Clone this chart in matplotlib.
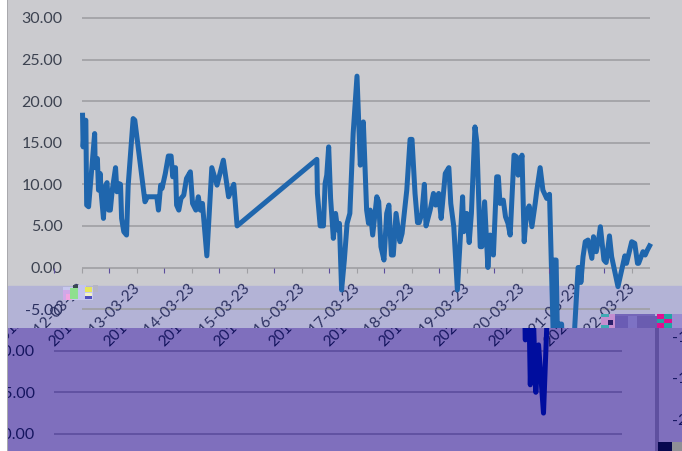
import matplotlib
matplotlib.use("Agg")
import matplotlib.pyplot as plt
from matplotlib.patches import Rectangle
from matplotlib.transforms import ScaledTranslation

plt.rcParams['font.family'] = ['Lato', 'DejaVu Sans']

###########################################
# Data
###########################################
# years after 2012-03-23
years = [0.01, 0.02, 0.05, 0.07, 0.085, 0.12, 0.16, 0.23, 0.24, 0.28, 0.30, 0.33, 0.35, 0.39, 0.42,
         0.455, 0.485, 0.515, 0.55, 0.61, 0.635, 0.665, 0.70, 0.72, 0.76, 0.81, 0.84, 0.93, 0.96,
         1.145, 1.19, 1.36, 1.39, 1.43, 1.455, 1.515, 1.57, 1.62, 1.65, 1.70, 1.72, 1.76, 1.80,
         1.85, 1.90, 1.97, 2.01, 2.07, 2.115, 2.15, 2.19, 2.27, 2.36, 2.455, 2.57, 2.665, 2.76, 2.82,
         4.27, 4.28, 4.33, 4.39, 4.42, 4.45, 4.485, 4.52, 4.57, 4.61, 4.65, 4.68, 4.72, 4.77, 4.82,
         4.87, 4.93, 5.0, 5.06, 5.115, 5.175, 5.21, 5.24, 5.285, 5.36, 5.395, 5.435, 5.49, 5.54,
         5.58, 5.625, 5.66, 5.71, 5.78, 5.82, 5.905, 5.965, 6.0, 6.055, 6.10, 6.13, 6.18, 6.225,
         6.255, 6.33, 6.39, 6.43, 6.485, 6.53, 6.605, 6.67, 6.705, 6.76, 6.825, 6.92, 6.94, 6.995,
         7.04, 7.08, 7.145, 7.18, 7.24, 7.27, 7.32, 7.38, 7.42, 7.48, 7.54, 7.57, 7.60, 7.66, 7.70,
         7.745, 7.785, 7.855, 7.90, 7.93, 8.0, 8.04, 8.08, 8.13, 8.18, 8.24, 8.27, 8.33, 8.38, 8.45,
         8.50, 8.57, 8.59, 8.62, 8.66, 8.69, 8.72, 8.76, 8.81, 8.90, 8.96, 9.02, 9.06, 9.07, 9.11,
         9.15, 9.2, 9.27, 9.30, 9.35, 9.40, 9.425, 9.49, 9.53, 9.59, 9.63, 9.745, 9.87, 9.90, 9.995,
         10.05, 10.10, 10.12, 10.2, 10.24, 10.28, 10.32]
values = [18.3, 14.5, 17.7, 17.7, 7.5, 7.3, 10.5, 16.1, 12.0, 13.1, 9.3, 11.3, 8.9, 5.9, 9.7,
          10.2, 6.9, 6.9, 9.3, 12.0, 9.1, 10.1, 10.0, 5.9, 4.3, 3.9, 9.9, 17.9, 17.7,
          7.9, 8.5, 8.5, 6.9, 9.9, 9.5, 11.3, 13.4, 13.4, 10.9, 12.0, 7.5, 6.9, 8.3,
          8.7, 10.7, 11.5, 7.7, 6.9, 8.5, 6.9, 7.7, 1.4, 12.0, 9.9, 12.9, 8.5, 10.0, 5.0,
          13.0, 8.9, 5.0, 5.0, 10.1, 11.1, 14.5, 8.3, 3.5, 6.5, 4.5, 5.3, -2.7, 0.9, 5.3,
          6.5, 16.1, 23.0, 12.3, 17.5, 6.9, 5.3, 6.9, 3.9, 8.5, 7.9, 2.5, 0.9, 6.5,
          7.5, 1.5, 1.5, 6.5, 3.1, 4.1, 9.3, 15.4, 15.4, 8.9, 5.4, 5.4, 6.5, 10.0,
          5.0, 6.9, 8.9, 7.5, 8.9, 5.9, 11.3, 12.0, 7.7, 4.9, -2.7, 8.5, 4.3, 6.5,
          3.0, 6.5, 16.9, 15.0, 2.5, 2.5, 7.9, 0.0, 3.9, 1.5, 10.9, 10.9, 7.7, 8.1, 6.1,
          5.3, 3.9, 13.5, 13.3, 11.1, 13.5, 3.1, 6.5, 7.4, 4.9, 7.7, 9.3, 12.0, 9.3, 8.3,
          8.8, -8.7, 0.9, 0.9, -14.1, -6.8, -6.8, -15.0, -9.3, -17.5, -7.0, 0.0, 0.0, -1.8, 1.3,
          3.1, 3.3, 1.1, 3.7, 1.9, 3.7, 4.9, 0.9, 0.6, 3.8, 1.3, -2.3, 1.4, 0.5, 3.1,
          2.9, 0.5, 0.5, 1.9, 1.5, 2.1, 2.6]

date_labels = ['2012-03-23', '2013-03-23', '2014-03-23', '2015-03-23', '2016-03-23', '2017-03-23',
               '2018-03-23', '2019-03-23', '2020-03-23', '2021-03-23', '2022-03-23']
year_ticks = list(range(len(date_labels)))
upper_yticks = [30, 25, 20, 15, 10, 5, 0, -5]
lower_yticks = [-10, -15, -20]
wrapped_labels = ['-10.00', '-15.00', '-20.00']

###########################################
# Pixel layout of the picture
###########################################
W, H = 682, 451
X0, PX_YEAR = 82, 55       # px of first tick, px per year
Y0, PX_UNIT = 267.5, 8.32  # px of zero line, px per unit
SPLIT = 328                # purple part starts here
SHIFT = 28                 # purple part is moved left by this

fig = plt.figure(figsize=(W / 100, H / 100), dpi=100, facecolor='white')
label_nudge = ScaledTranslation(-4 / 100, 0, fig.dpi_scale_trans)


def px_box(left, top, right, bottom):
    return [left / W, 1 - bottom / H, (right - left) / W, (bottom - top) / H]


def val(y):
    return (Y0 - y) / PX_UNIT


def setup(ax, shift, ylo, yhi, yticks, grid_c, ytext_c, xtext_c, line_c):
    left, right = ax.get_position().x0 * W, ax.get_position().x1 * W
    ax.set_xlim((left + shift - X0) / PX_YEAR, (right + shift - X0) / PX_YEAR)
    ax.set_ylim(ylo, yhi)
    ax.hlines(upper_yticks + lower_yticks, 0, 10.33, color=grid_c, lw=1.2, zorder=1)
    ax.plot(years, values, color=line_c, lw=3.6, solid_joinstyle='round', zorder=3)
    for name in ['top', 'right']:
        ax.spines[name].set_visible(False)
    ax.spines['left'].set_position(('data', 0))
    ax.spines['left'].set_visible(False)
    ax.spines['bottom'].set_position(('data', 0))
    ax.spines['bottom'].set_visible(False)
    ax.set_yticks(yticks, [f'{v:.2f}' for v in yticks])
    ax.set_xticks(year_ticks, date_labels)
    ax.tick_params(axis='y', length=0, pad=14, labelsize=11.5, labelcolor=ytext_c)
    ax.tick_params(axis='x', length=3.5, width=0.8, color=grid_c, pad=6, labelsize=11, labelcolor=xtext_c)
    for lab in ax.get_xticklabels():
        lab.set_rotation(45)
        lab.set_ha('right')
        lab.set_va('top')
        lab.set_rotation_mode('anchor')
        lab.set_transform(lab.get_transform() + label_nudge)
    for lab in ax.get_xticklabels() + ax.get_yticklabels():
        lab.set_clip_on(True)
        lab.set_clip_box(ax.bbox)


###########################################
# Upper part, grey with lavender band
###########################################
ax = fig.add_axes(px_box(8, 0, W, SPLIT), facecolor='#cbcbcf')
setup(ax, 0, val(SPLIT), val(0), upper_yticks, '#9f9fa3', '#3c4250', '#2b3060', '#1f66ad')
ax.axhspan(val(SPLIT), val(286), color='#b3b3d6', zorder=0)
ax.get_yticklabels()[-1].set_color('#2b3060')

###########################################
# Lower part, purple and shifted left
###########################################
ax2 = fig.add_axes(px_box(8, SPLIT, 655, H), facecolor='#7f6fbd')
setup(ax2, SHIFT, val(H), val(SPLIT), lower_yticks, '#5c4d9d', '#15155f', '#15155f', '#000d9e')


def block(left, top, right, bottom, color):
    fig.add_artist(Rectangle((left / W, 1 - bottom / H), (right - left) / W, (bottom - top) / H,
                             transform=fig.transFigure, color=color, lw=0))


# left border of the window
block(7, 0, 8, H, '#a9a9ad')

# right panel of the purple part
block(655, SPLIT, W, H, '#7f6fbd')
block(655, SPLIT, 659, H, '#5f509f')
for lab, y in zip(wrapped_labels, [338, 379, 421]):
    fig.text(672 / W, 1 - y / H, lab, color='#15155f', fontsize=11.5, va='center', ha='left')
block(658, 442, 672, H, '#07074f')
block(672, 442, W, H, '#8f8f96')

# broken blocks
block(63, 287, 93, 300, '#c8c8ee')
block(63, 290, 70, 300, '#d0a8e8')
block(66, 294, 72, 300, '#f2a4e0')
block(70, 288, 78, 299, '#8fe08f')
block(73, 285, 78, 288, '#3a4a50')
block(78, 285, 86, 299, '#c4c4f0')
block(85, 287, 92, 292, '#e6e65a')
block(85, 293, 92, 296, '#f2f2c8')
block(85, 296, 92, 299, '#5050c0')
block(93, 285, 98, 292, '#b5b5c4')
block(601, 314, 655, 328, '#7466b9')
block(601, 314, 615, 328, '#c48fd0')
block(601, 314, 609, 317, '#3fa9b5')
block(601, 325, 609, 328, '#3fa9b5')
block(608, 320, 613, 325, '#2a1f6a')
block(615, 316, 628, 328, '#6a5cb4')
block(628, 316, 637, 328, '#7d72c4')
block(637, 316, 657, 328, '#6a5cb0')
block(657, 314, 664, 328, '#e0108f')
block(664, 314, 672, 328, '#22a5a5')
block(657, 319, 664, 323, '#22a5a5')
block(664, 319, 672, 323, '#e0108f')
block(672, 314, W, 328, '#9a8cd0')

fig.savefig('out.png', dpi=100, facecolor=fig.get_facecolor())
